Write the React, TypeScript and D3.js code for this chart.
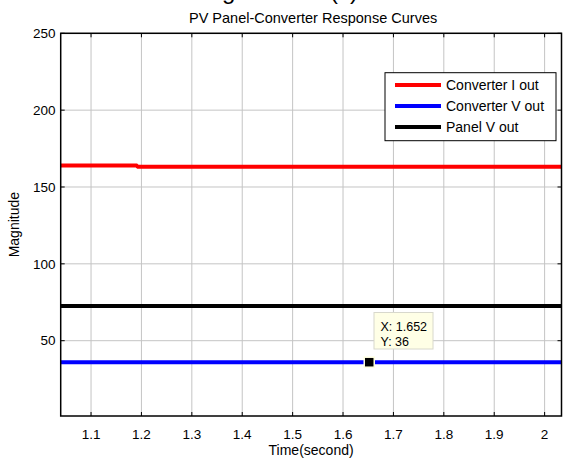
import React from "react";
import * as d3 from "d3";

const seriesNames = ["Converter I out", "Converter V out", "Panel V out"];
const seriesColors = ["#ff0000", "#0000ff", "#000000"];
const timeRed = [1.04, 1.19, 1.193, 2.035];
const converterI = [164, 164, 163.2, 163.2];
const timeFlat = [1.04, 2.035];
const converterV = [36, 36];
const panelV = [72.5, 72.5];
const xTicks = [1.1, 1.2, 1.3, 1.4, 1.5, 1.6, 1.7, 1.8, 1.9, 2];
const yTicks = [50, 100, 150, 200, 250];
const tipX = 1.652;
const tipY = 36;

const W = 563;
const H = 459;
const L = 60.7, R = 561.5, T = 33.3, B = 416;
const FONT = "'Liberation Sans', Arial, Helvetica, sans-serif";

export default function App() {
  const x = d3.scaleLinear().domain([1.0398, 2.0335]).range([L, R]);
  const y = d3.scaleLinear().domain([1, 250]).range([B, T]);
  const line = d3.line<[number, number]>().x((d) => x(d[0])).y((d) => y(d[1]));
  const series: [number, number][][] = [
    timeRed.map((t, i) => [t, converterI[i]]),
    timeFlat.map((t, i) => [t, converterV[i]]),
    timeFlat.map((t, i) => [t, panelV[i]]),
  ];
  const tx = x(tipX), ty = y(tipY);
  return (
    <svg width={W} height={H} style={{ position: "absolute", left: 0, top: 0, background: "#fff" }} fontFamily={FONT}>
      <rect width={W} height={H} fill="#fff" />
      <text x={202} y={-1} fontSize={24} fill="#000">Figure 4.12 (c)</text>
      <text x={(L + R) / 2 + 2} y={23} fontSize={14.5} textAnchor="middle" fill="#000">PV Panel-Converter Response Curves</text>
      <defs>
        <clipPath id="plot"><rect x={L} y={T} width={R - L} height={B - T} /></clipPath>
      </defs>
      {/* grid */}
      {xTicks.map((t) => (
        <line key={"gx" + t} x1={x(t)} x2={x(t)} y1={T} y2={B} stroke="#c4c4c4" strokeWidth={1} />
      ))}
      {yTicks.map((t) => (
        <line key={"gy" + t} x1={L} x2={R} y1={y(t)} y2={y(t)} stroke="#c4c4c4" strokeWidth={1} />
      ))}
      {/* series */}
      <g clipPath="url(#plot)">
        {series.map((s, i) => (
          <path key={i} d={line(s) || ""} fill="none" stroke={seriesColors[i]} strokeWidth={4} />
        ))}
      </g>
      {/* ticks */}
      {xTicks.map((t) => (
        <g key={"tx" + t}>
          <line x1={x(t)} x2={x(t)} y1={B} y2={B - 4} stroke="#000" />
          <line x1={x(t)} x2={x(t)} y1={T} y2={T + 4} stroke="#000" />
          <text x={x(t)} y={439} fontSize={13.5} textAnchor="middle" fill="#000">{t}</text>
        </g>
      ))}
      {yTicks.map((t) => (
        <g key={"ty" + t}>
          <line x1={L} x2={L + 4} y1={y(t)} y2={y(t)} stroke="#000" />
          <line x1={R} x2={R - 4} y1={y(t)} y2={y(t)} stroke="#000" />
          <text x={55.5} y={y(t) + 4.8} fontSize={13.5} textAnchor="end" fill="#000">{t}</text>
        </g>
      ))}
      <rect x={L} y={T} width={R - L} height={B - T} fill="none" stroke="#000" strokeWidth={1.5} />
      <text x={(L + R) / 2} y={455} fontSize={14} textAnchor="middle" fill="#000">Time(second)</text>
      <text transform={`translate(19,${(T + B) / 2}) rotate(-90)`} fontSize={14} textAnchor="middle" fill="#000">Magnitude</text>
      {/* legend */}
      <g>
        <rect x={385} y={72.7} width={171} height={68} fill="#fff" stroke="#000" strokeWidth={1} />
        {seriesNames.map((n, i) => (
          <g key={n}>
            <line x1={395} x2={441} y1={85 + i * 21} y2={85 + i * 21} stroke={seriesColors[i]} strokeWidth={4} />
            <text x={446} y={90 + i * 21} fontSize={14} fill="#000">{n}</text>
          </g>
        ))}
      </g>
      {/* datatip */}
      <g>
        <rect x={374} y={312.5} width={59} height={36.5} fill="#ffffe6" stroke="#d8d8cc" strokeWidth={1} />
        <text x={380.5} y={331} fontSize={12.5} fill="#000">X: 1.652</text>
        <text x={380.5} y={346} fontSize={12.5} fill="#000">Y: 36</text>
        <rect x={tx - 5} y={ty - 5} width={10} height={10} fill="#000" stroke="#ffffe0" strokeWidth={1.5} />
      </g>
    </svg>
  );
}
